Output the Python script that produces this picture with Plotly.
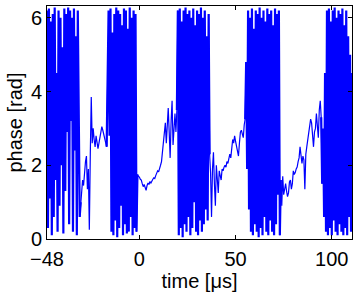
import numpy as np
import plotly.graph_objects as go

# sampling grid of the recorded signal (µs)
T_START = -48.0
T_STEP = 0.5

# phase values [rad], segment by segment
phase_dense_a = [6.2, 0.3, 6.25, 1.1, 5.9, 0.1, 6.1, 0.6, 6.28, 1.6,
                 4.5, 0.2, 6.2, 0.9, 6.0, 2.0, 5.2, 0.15, 6.25, 1.3,
                 6.1, 2.9, 6.28, 0.4, 6.2, 3.2, 6.0, 0.2, 6.25, 2.4,
                 5.5, 0.1, 6.2, 1.8, 0.6]
phase_curve_a = [1.0, 1.25, 1.6, 1.45, 1.9, 2.1, 2.25, 1.35, 1.9, 0.25,
                 2.3, 3.85, 2.6, 3.0, 2.7, 2.5, 2.8, 2.65, 2.45, 2.6,
                 2.75, 3.0, 3.05, 2.95, 2.85, 2.75, 2.6, 2.5]
phase_dense_b = [4.2, 6.2, 2.8, 6.25, 0.2, 5.6, 0.1, 6.1, 0.5, 6.28,
                 0.05, 6.2, 0.3, 6.1, 0.9, 5.8, 0.1, 6.25, 0.4, 6.2,
                 0.15, 5.7, 0.2, 6.28, 0.6, 6.0, 0.1, 6.2, 0.3, 6.1, 0.2]
phase_curve_c = [1.75, 1.70, 1.68, 1.62, 1.60, 1.50, 1.42, 1.48, 1.40, 1.32,
                 1.45, 1.52, 1.48, 1.56, 1.52, 1.60, 1.62, 1.66, 1.64, 1.72,
                 1.78, 1.85, 1.82, 1.95, 2.0, 2.1, 2.35, 2.75, 3.0, 3.15,
                 2.6, 3.3, 3.55, 2.9, 2.2, 3.2, 3.75, 2.55, 3.1, 3.4,
                 2.9, 3.5]
phase_dense_c = [6.2, 0.1, 6.25, 0.3, 5.9, 0.05, 6.2, 0.4, 6.28, 0.2,
                 6.1, 0.6, 6.2, 0.1, 6.0, 0.3, 6.25, 1.0, 5.8, 0.2,
                 6.2, 0.1, 6.1, 0.5, 6.28, 0.2, 6.0, 0.4, 6.2, 0.8,
                 5.5, 0.5, 6.1]
phase_curve_d = [2.3, 1.8, 0.6, 1.9, 2.35, 1.5, 0.9, 2.0, 1.7, 1.25,
                 1.85, 1.75, 1.6, 1.9, 1.85, 1.95, 2.0, 1.95, 2.1, 2.05,
                 2.25, 2.3, 2.2, 2.5, 2.7, 2.6, 2.8, 2.65, 2.5, 2.3,
                 2.25, 2.6, 2.9, 2.95, 2.8, 2.75, 3.1, 3.25]
phase_dense_d = [4.8, 1.9, 6.2, 0.8, 6.0, 0.2, 6.25, 0.1, 5.7, 0.4,
                 6.2, 0.2, 6.1, 0.05, 6.28, 0.3, 6.0, 0.1, 6.2, 0.6,
                 5.9, 0.2, 6.25, 0.1, 6.1, 0.5, 6.2, 0.2, 5.8, 0.1,
                 6.25, 0.4, 6.1, 1.2, 6.2, 0.1]
phase_curve_e = [1.6, 0.9, 1.7, 1.2, 1.35, 1.5, 1.3, 1.15, 1.25, 1.55,
                 1.6, 1.35, 1.5, 1.85, 1.75, 1.8, 1.9, 1.95, 2.1, 2.2,
                 2.5, 2.2, 2.05, 2.25, 2.15, 1.35, 2.3, 2.5, 2.7, 2.9,
                 3.1, 3.25, 3.15, 2.8, 2.5, 2.9, 3.0, 3.4, 3.1, 2.75,
                 3.5, 3.75, 3.3]
phase_dense_e = [1.5, 3.0, 0.6, 4.5, 0.2, 6.2, 0.1, 6.25, 0.3, 5.9,
                 0.1, 6.2, 0.5, 6.28, 0.2, 6.0, 0.1, 6.2, 0.4, 6.1,
                 0.2, 6.25, 0.1, 5.8, 0.3, 6.2, 0.1, 5.5, 0.6, 5.0,
                 0.2, 4.5]

x_tick_vals = [-48, 0, 50, 100]
x_tick_text = ["\u221248", "0", "50", "100"]
y_tick_vals = [0, 2, 4, 6]
y_tick_text = ["0", "2", "4", "6"]

segments = [
    (phase_dense_a, True), (phase_curve_a, False),
    (phase_dense_b, True), (phase_curve_c, False),
    (phase_dense_c, True), (phase_curve_d, False),
    (phase_dense_d, True), (phase_curve_e, False),
    (phase_dense_e, True),
]

phase = []
for seg, _ in segments:
    phase += seg
phase = np.array(phase)
time = T_START + T_STEP * np.arange(len(phase))

FONT = "Liberation Sans, Arial, Helvetica, sans-serif"
BLUE = "#0000ff"

fig = go.Figure()
pos = 0
for seg, dense in segments:
    lo = max(pos - 1, 0)
    hi = min(pos + len(seg) + 1, len(phase))
    fig.add_trace(go.Scatter(
        x=time[lo:hi], y=phase[lo:hi], mode="lines",
        line=dict(color=BLUE, width=2.2 if dense else 1.2),
        showlegend=False, hoverinfo="skip"))
    pos += len(seg)

axis_common = dict(
    showgrid=False, zeroline=False, showline=True, linecolor="black",
    linewidth=1, mirror="ticks", ticks="inside", ticklen=4,
    tickcolor="black", tickfont=dict(family=FONT, size=20, color="black"),
)

fig.update_layout(
    width=354, height=295,
    margin=dict(l=47, r=2, t=6, b=56),
    paper_bgcolor="white", plot_bgcolor="white",
    font=dict(family=FONT, size=20, color="black"),
    xaxis=dict(range=[-48, 110.5], tickvals=x_tick_vals, ticktext=x_tick_text,
               ticklabelstandoff=2,
               title=dict(text="time [\u03bcs]", font=dict(family=FONT, size=20),
                          standoff=4),
               **axis_common),
    yaxis=dict(range=[0, 6.32], tickvals=y_tick_vals, ticktext=y_tick_text,
               title=dict(text="phase [rad]", font=dict(family=FONT, size=20),
                          standoff=2),
               **axis_common),
)

fig.write_html("out.html")
